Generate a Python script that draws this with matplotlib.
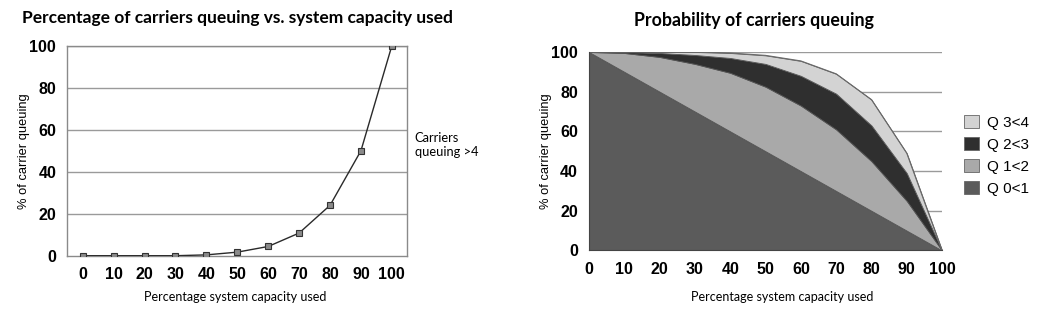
import matplotlib.pyplot as plt
from matplotlib.patches import Patch

# capacity used (%) at each step
capacity = [0, 10, 20, 30, 40, 50, 60, 70, 80, 90, 100]

# percentage of carriers queuing more than 4
queuing_gt4 = [0, 0, 0, 0, 0.4, 1.7, 4.4, 10.8, 24, 50, 100]

# cumulative tops of the stacked probability bands
q01_top = [100, 90, 80, 70, 60, 50, 40, 30, 20, 10, 0]
q12_top = [100, 99.5, 97.5, 94, 89.5, 82.5, 73, 61, 45, 25, 0]
q23_top = [100, 100, 99.5, 98.5, 97, 94, 88, 79, 63, 39, 0]
q34_top = [100, 100, 100, 100, 99.5, 98.3, 95.5, 89, 76, 49, 0]

band_labels = ["Q 0<1", "Q 1<2", "Q 2<3", "Q 3<4"]
band_colors = ["#5b5b5b", "#a9a9a9", "#2f2f2f", "#d3d3d3"]

yticks = [0, 20, 40, 60, 80, 100]

num_font = "Liberation Sans"
text_font = "Lato"

fig = plt.figure(figsize=(10.42, 3.26), dpi=100)

# ---- left: line chart ----
ax1 = fig.add_axes([0.0646, 0.2156, 0.3263, 0.6442])
ax1.plot(capacity, queuing_gt4, color="#2a2a2a", lw=1.0, marker="s",
         markersize=4, markerfacecolor="#8a8a8a", markeredgecolor="#333333",
         markeredgewidth=0.8, zorder=3)
ax1.set_xlim(-5, 105)
ax1.set_ylim(0, 100)
ax1.set_xticks(capacity)
ax1.set_yticks(yticks)
for y in yticks[1:]:
    ax1.axhline(y, color="#9a9a9a", lw=1.0, zorder=1)
for sp in ax1.spines.values():
    sp.set_color("#8a8a8a")
    sp.set_linewidth(1.0)
ax1.tick_params(length=0, pad=8)
for lab in ax1.get_xticklabels() + ax1.get_yticklabels():
    lab.set_fontfamily(num_font)
    lab.set_fontweight("bold")
    lab.set_fontsize(11.5)
ax1.set_ylabel("% of carrier queuing", fontfamily=num_font, fontsize=9.3)
ax1.yaxis.set_label_coords(-0.11, 0.5)

fig.text(0.021, 0.945, "Percentage of carriers queuing vs. system capacity used",
         fontfamily=text_font, fontweight="bold", fontsize=12.5, va="center")
fig.text(0.226, 0.088, "Percentage system capacity used",
         fontfamily=text_font, fontsize=9.0, ha="center", va="center")
fig.text(0.398, 0.555, "Carriers\nqueuing >4", fontfamily=text_font,
         fontsize=9.3, va="center", linespacing=1.25)

# ---- right: stacked area chart ----
ax2 = fig.add_axes([0.5653, 0.2316, 0.3388, 0.6089])
ax2.set_xlim(0, 100)
ax2.set_ylim(0, 100)
for y in yticks[1:]:
    ax2.axhline(y, color="#9a9a9a", lw=1.0, zorder=0)

bottoms = [[0] * len(capacity), q01_top, q12_top, q23_top]
tops = [q01_top, q12_top, q23_top, q34_top]
for lo, hi, c in zip(bottoms, tops, band_colors):
    ax2.fill_between(capacity, lo, hi, facecolor=c, edgecolor="#555555",
                     lw=0.6, zorder=2)
ax2.plot(capacity, q34_top, color="#6a6a6a", lw=0.8, zorder=3)

for name in ["top", "right"]:
    ax2.spines[name].set_visible(False)
ax2.spines["left"].set_color("#444444")
ax2.spines["bottom"].set_color("#444444")
ax2.spines["left"].set_zorder(4)
ax2.spines["bottom"].set_zorder(4)
ax2.set_xticks(capacity)
ax2.set_yticks(yticks)
ax2.tick_params(length=0, pad=8)
for lab in ax2.get_xticklabels() + ax2.get_yticklabels():
    lab.set_fontfamily(num_font)
    lab.set_fontweight("bold")
    lab.set_fontsize(11.5)
ax2.set_ylabel("% of carrier queuing", fontfamily=num_font, fontsize=9.3)
ax2.yaxis.set_label_coords(-0.105, 0.5)

handles = [Patch(facecolor=c, edgecolor="#666666", lw=0.6, label=l)
           for l, c in zip(band_labels, band_colors)]
fig.legend(handles=handles[::-1], loc="upper left",
           bbox_to_anchor=(0.912, 0.69), frameon=False,
           prop={"family": num_font, "size": 11},
           handlelength=1.0, handleheight=1.0, handletextpad=0.5,
           labelspacing=0.45)

fig.text(0.724, 0.938, "Probability of carriers queuing",
         fontfamily=text_font, fontweight="bold", fontsize=12.8,
         ha="center", va="center")
fig.text(0.751, 0.088, "Percentage system capacity used",
         fontfamily=text_font, fontsize=9.0, ha="center", va="center")

fig.savefig("out.png", dpi=100)
